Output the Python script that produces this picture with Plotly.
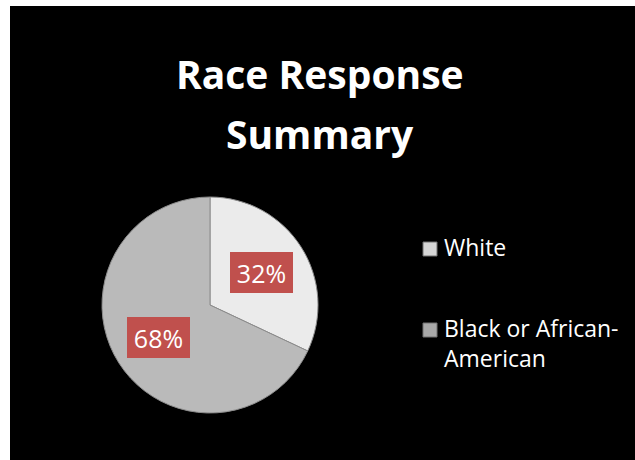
import math
import plotly.graph_objects as go

W, H = 635, 460

labels = ["White", "Black or African-American"]
legend_text = ["White", "Black or African-<br>American"]
values = [32, 68]
slice_colors = ["#ebebeb", "#bababa"]
marker_colors = ["#d6d6d6", "#a8a8a8"]
title_lines = ["Race Response", "Summary"]

FONT = "Open Sans"

# pie geometry in pixels
cx, cy, r = 210, 305, 108

fig = go.Figure()
fig.add_trace(go.Pie(
    labels=labels,
    values=values,
    sort=False,
    direction="clockwise",
    rotation=0,
    textinfo="none",
    hoverinfo="label+percent",
    marker=dict(colors=slice_colors, line=dict(color="#8c8c8c", width=1)),
    domain=dict(x=[(cx - r) / W, (cx + r) / W], y=[1 - (cy + r) / H, 1 - (cy - r) / H]),
    showlegend=False,
))

def px(x):
    return x / W

def py(y):
    return 1 - y / H

annotations = []
shapes = []

# percentage label boxes, placed from the data
total = sum(values)
cum = 0
for v in values:
    theta = 2 * math.pi * (cum + v / 2) / total
    cum += v
    lx = cx + 0.565 * r * math.sin(theta)
    ly = cy - 0.565 * r * math.cos(theta)
    annotations.append(dict(
        x=px(lx), y=py(ly), xref="paper", yref="paper",
        text=f"{round(100 * v / total)}%", showarrow=False,
        xanchor="center", yanchor="middle",
        font=dict(family=FONT, size=25, color="white"),
        bgcolor="#c0504d", borderpad=0, borderwidth=0,
        width=63, height=41,
    ))

# title
title_y = [74, 133]
for t, yy in zip(title_lines, title_y):
    annotations.append(dict(
        x=px(319.5), y=py(yy), xref="paper", yref="paper",
        text=f"<b>{t}</b>", showarrow=False, xanchor="center", yanchor="middle",
        font=dict(family=FONT, size=39, color="white"),
    ))

# manual legend
leg_y = [249, 330]
for name, col, yy in zip(legend_text, marker_colors, leg_y):
    shapes.append(dict(
        type="rect", xref="paper", yref="paper",
        x0=px(423), x1=px(437), y0=py(yy - 7), y1=py(yy + 7),
        fillcolor=col, line=dict(color="#707070", width=1), layer="above",
    ))
    annotations.append(dict(
        x=px(442), y=py(yy - 20), xref="paper", yref="paper",
        text=name, showarrow=False, xanchor="left", yanchor="top", align="left",
        font=dict(family=FONT, size=23, color="white"),
    ))

# white border strips (left and top)
shapes.append(dict(type="rect", xref="paper", yref="paper", x0=0, x1=px(10), y0=0, y1=1,
                   fillcolor="white", line=dict(width=0), layer="below"))
shapes.append(dict(type="rect", xref="paper", yref="paper", x0=0, x1=1, y0=py(6), y1=1,
                   fillcolor="white", line=dict(width=0), layer="below"))

fig.update_layout(
    width=W, height=H,
    margin=dict(l=0, r=0, t=0, b=0),
    paper_bgcolor="black",
    plot_bgcolor="black",
    annotations=annotations,
    shapes=shapes,
    showlegend=False,
)

fig.write_html("out.html", config={"displayModeBar": False})
